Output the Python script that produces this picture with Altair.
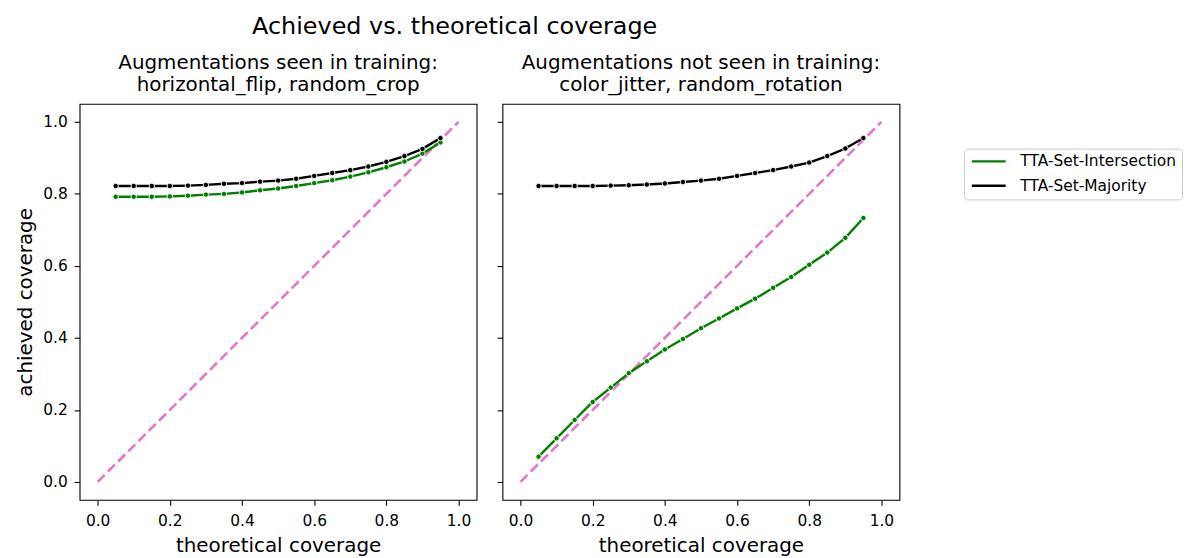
import altair as alt
import pandas as pd

# ---------------- data ----------------
theoretical = [0.05, 0.10, 0.15, 0.20, 0.25, 0.30, 0.35, 0.40, 0.45, 0.50,
               0.55, 0.60, 0.65, 0.70, 0.75, 0.80, 0.85, 0.90, 0.95]
seen_intersection = [0.792, 0.792, 0.792, 0.793, 0.795, 0.798, 0.800, 0.804, 0.810, 0.815,
                     0.822, 0.830, 0.838, 0.848, 0.860, 0.874, 0.890, 0.912, 0.943]
seen_majority = [0.822, 0.822, 0.822, 0.822, 0.823, 0.825, 0.828, 0.830, 0.834, 0.837,
                 0.842, 0.850, 0.858, 0.866, 0.876, 0.889, 0.905, 0.925, 0.955]
unseen_intersection = [0.070, 0.121, 0.172, 0.222, 0.262, 0.302, 0.335, 0.368, 0.397, 0.427,
                       0.454, 0.482, 0.509, 0.539, 0.569, 0.603, 0.637, 0.678, 0.733]
unseen_majority = [0.822, 0.822, 0.822, 0.822, 0.823, 0.824, 0.826, 0.829, 0.833, 0.837,
                   0.842, 0.850, 0.858, 0.866, 0.876, 0.887, 0.905, 0.926, 0.955]
diagonal = [0.0, 1.0]
series_names = ["TTA-Set-Intersection", "TTA-Set-Majority"]
series_colors = ["#008000", "#000000"]
tick_values = [0.0, 0.2, 0.4, 0.6, 0.8, 1.0]
title_seen = ["Augmentations seen in training:", "horizontal_flip, random_crop"]
title_unseen = ["Augmentations not seen in training:", "color_jitter, random_rotation"]
main_title = "Achieved vs. theoretical coverage"

FONT = "DejaVu Sans"


def make_df(inter, major):
    rows = []
    for x, v in zip(theoretical, inter):
        rows.append({"x": x, "y": v, "method": series_names[0]})
    for x, v in zip(theoretical, major):
        rows.append({"x": x, "y": v, "method": series_names[1]})
    return pd.DataFrame(rows)


diag_df = pd.DataFrame({"x": diagonal, "y": diagonal})

xscale = alt.Scale(domain=[-0.05, 1.05], nice=False, zero=False)
yscale = alt.Scale(domain=[-0.05, 1.05], nice=False, zero=False)
cscale = alt.Scale(domain=series_names, range=series_colors)


def panel(df, title_lines, first):
    xaxis = alt.Axis(values=tick_values, format=".1f", title="theoretical coverage",
                     grid=False, domain=False, tickColor="black", tickSize=5.4,
                     tickWidth=1.1, labelPadding=8, titlePadding=7,
                     labelFontSize=15.5, titleFontSize=20, labelFont=FONT,
                     titleFont=FONT, titleFontWeight="normal", labelColor="black",
                     titleColor="black", labelFlush=False)
    if first:
        yaxis = alt.Axis(values=tick_values, format=".1f", title="achieved coverage",
                         grid=False, domain=False, tickColor="black", tickSize=5.4,
                         tickWidth=1.1, labelPadding=7, titlePadding=7,
                         labelFontSize=15.5, titleFontSize=20, labelFont=FONT,
                         titleFont=FONT, titleFontWeight="normal", labelColor="black",
                         titleColor="black", labelFlush=False)
    else:
        yaxis = alt.Axis(values=tick_values, title=None, labels=False,
                         grid=False, domain=False, tickColor="black", tickSize=5.4,
                         tickWidth=1.1)

    diag = alt.Chart(diag_df).mark_line(
        color="#e377c2", strokeWidth=2.6, strokeDash=[10, 4.5]
    ).encode(
        x=alt.X("x:Q", scale=xscale, axis=xaxis),
        y=alt.Y("y:Q", scale=yscale, axis=yaxis),
    )
    color_enc = alt.Color(
        "method:N", scale=cscale,
        legend=alt.Legend(
            title=None, orient="none", legendX=889, legendY=45,
            symbolType="M-3.4,0L3.4,0", symbolSize=100, symbolStrokeWidth=2.4,
            symbolOffset=12,
            labelFontSize=15.5, labelFont=FONT, labelColor="black",
            labelOffset=24, rowPadding=7.5, padding=5,
            strokeColor="#cccccc", fillColor="white", cornerRadius=3,
        ),
    )
    lines = alt.Chart(df).mark_line(strokeWidth=2.4).encode(
        x="x:Q", y="y:Q", color=color_enc,
    )
    pts = alt.Chart(df).mark_point(
        filled=True, size=30, stroke="white", strokeWidth=0.9, opacity=1
    ).encode(
        x="x:Q", y="y:Q",
        fill=alt.Fill("method:N", scale=cscale, legend=None),
    )
    return alt.layer(diag, lines, pts).properties(
        width=399, height=398,
        title=alt.TitleParams(title_lines, fontSize=20, font=FONT,
                              fontWeight="normal", color="black",
                              lineHeight=22, offset=9, anchor="middle"),
    )


left = panel(make_df(seen_intersection, seen_majority), title_seen, True)
right = panel(make_df(unseen_intersection, unseen_majority), title_unseen, False)

chart = alt.hconcat(left, right, spacing=18).properties(
    title=alt.TitleParams(main_title, fontSize=24, font=FONT, fontWeight="normal",
                          color="black", anchor="middle", frame="bounds", offset=14,
                          dx=-145),
    padding={"left": 15, "top": 13, "right": 5, "bottom": 2},
).configure_view(
    stroke="black", strokeWidth=1.1
).configure_legend(
    symbolStrokeColor="black"
).resolve_scale(color="shared")

chart.save("out.html", embed_options={"renderer": "svg", "actions": False})
